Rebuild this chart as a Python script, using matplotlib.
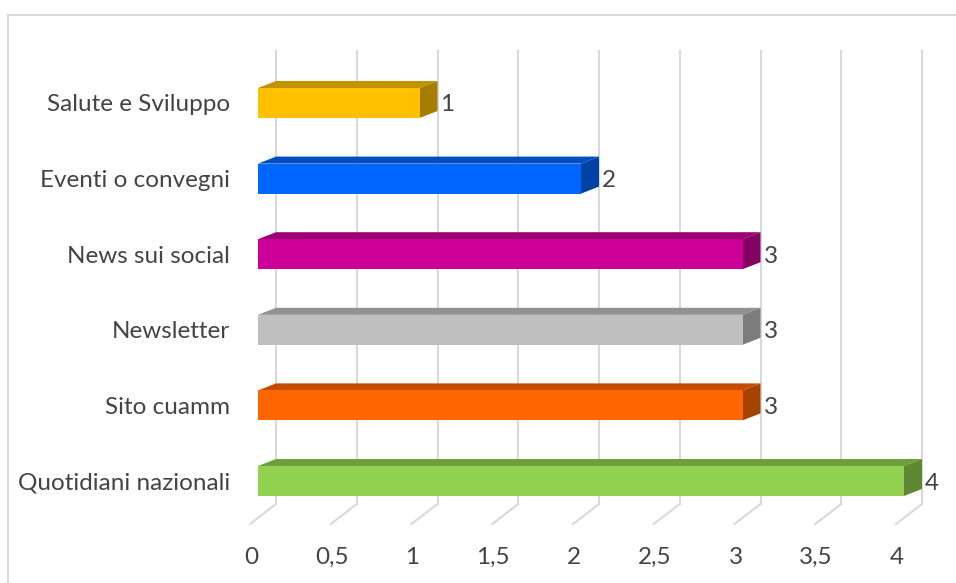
import matplotlib.pyplot as plt
from matplotlib.patches import Polygon, Rectangle

# Chart data (bottom to top)
categories = ['Quotidiani nazionali', 'Sito cuamm', 'Newsletter',
              'News sui social', 'Eventi o convegni', 'Salute e Sviluppo']
values = [4, 3, 3, 3, 2, 1]
front_colors = ['#92D050', '#FF6600', '#BFBFBF', '#CC0099', '#0066FF', '#FFC000']
top_colors = ['#6F9E3C', '#C24D00', '#919191', '#9B0074', '#004DC2', '#C29200']
side_colors = ['#5E8733', '#A64200', '#7C7C7C', '#840063', '#0042A6', '#A67D00']
xticks = [0, 0.5, 1, 1.5, 2, 2.5, 3, 3.5, 4]
xtick_labels = ['0', '0,5', '1', '1,5', '2', '2,5', '3', '3,5', '4']

W, H, DPI = 956, 583, 100
PX_X = 161.5   # pixels per value unit
PX_Y = 75.6    # pixels per category
X0, Y0 = 258, 481  # pixel position of value 0 / first category

fig = plt.figure(figsize=(W / DPI, H / DPI), dpi=DPI)
ax = fig.add_axes([0, 0, 1, 1])
ax.set_xlim(-X0 / PX_X, (W - X0) / PX_X)
ax.set_ylim(-(H - Y0) / PX_Y, Y0 / PX_Y)
ax.axis('off')

plt.rcParams['font.family'] = ['Lato', 'DejaVu Sans']
txt_color = '#444444'
fs = 17.5

# depth offsets for the 3D look
dx = 18 / PX_X
dy = 7 / PX_Y
bh = 30 / PX_Y
grid_top = (Y0 - 51) / PX_Y
grid_bot = (Y0 - 504) / PX_Y
floor_dx = 26 / PX_X
floor_dy = 20 / PX_Y
grid_c = '#D9D9D9'

# outer chart frame
ax.add_patch(Rectangle((-250 / PX_X, -(H + 20 - Y0) / PX_Y), (W + 40) / PX_X,
                       (H + 20 - 15) / PX_Y, fill=False, ec='#D9D9D9', lw=1.5,
                       zorder=0))

# back wall gridlines and floor lines
for t in xticks:
    ax.plot([t + dx, t + dx], [grid_bot, grid_top], color=grid_c, lw=1.5, zorder=1)
    ax.plot([t + dx, t + dx - floor_dx], [grid_bot, grid_bot - floor_dy],
            color=grid_c, lw=1.5, zorder=1)

for i, (v, fc, tc, sc) in enumerate(zip(values, front_colors, top_colors, side_colors)):
    y1 = i - bh / 2
    y2 = i + bh / 2
    # front face
    ax.barh(i, v, height=bh, left=0, color=fc, zorder=3)
    # top face
    ax.add_patch(Polygon([(0, y2), (v, y2), (v + dx, y2 + dy), (dx, y2 + dy)],
                         closed=True, fc=tc, ec='none', zorder=2))
    # end face
    ax.add_patch(Polygon([(v, y1), (v + dx, y1 + dy), (v + dx, y2 + dy), (v, y2)],
                         closed=True, fc=sc, ec='none', zorder=2))
    # value label
    ax.text(v + dx + 3 / PX_X, i - 2 / PX_Y, str(v), ha='left', va='center',
            fontsize=fs, color=txt_color, zorder=4)
    # category label
    ax.text(-28 / PX_X, i - 2 / PX_Y, categories[i], ha='right', va='center',
            fontsize=fs, color=txt_color, zorder=4)

# value axis labels along the floor
for t, lab in zip(xticks, xtick_labels):
    ax.text(t - 7 / PX_X, (Y0 - 557) / PX_Y, lab, ha='center', va='center',
            fontsize=fs, color=txt_color)

fig.savefig('out.png', dpi=DPI)
